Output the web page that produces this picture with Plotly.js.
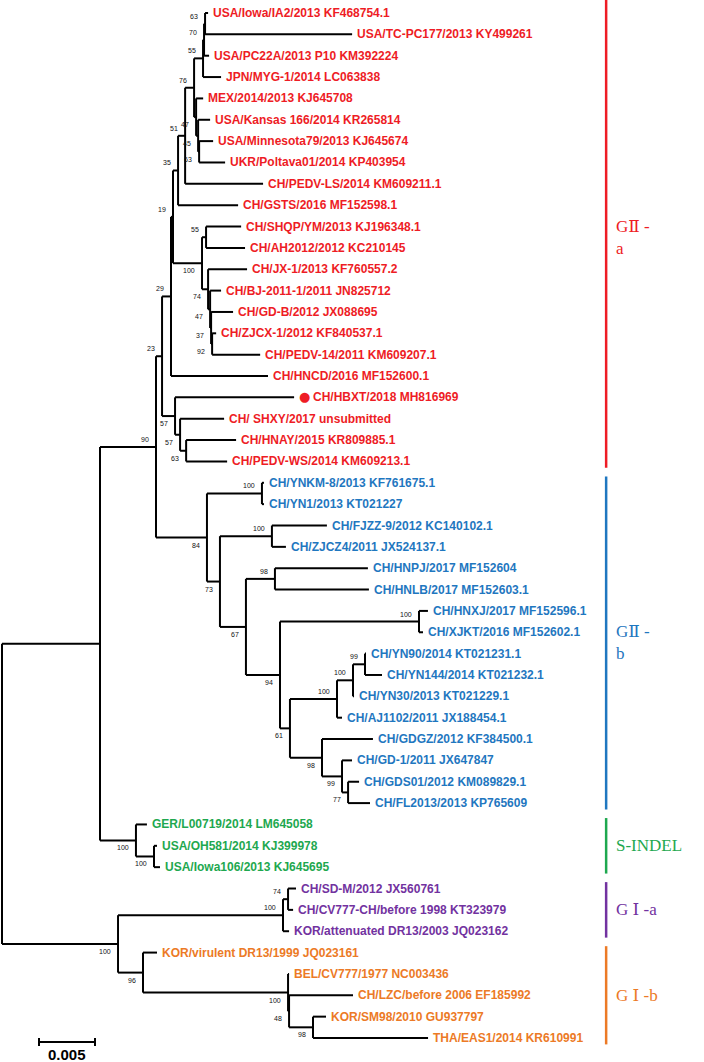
<!DOCTYPE html>
<html>
<head>
<meta charset="utf-8">
<script src="https://cdn.plot.ly/plotly-3.0.1.min.js"></script>
<style>html,body{margin:0;padding:0;background:#fff;}#chart{width:704px;height:1062px;}</style>
</head>
<body>
<div id="chart"></div>
<script>
// ---------------- DATA ----------------
// Leaf labels in display order (top to bottom); the tree refers to them by index
const leafNames = [
  "USA/Iowa/IA2/2013 KF468754.1","USA/TC-PC177/2013 KY499261","USA/PC22A/2013 P10 KM392224",
  "JPN/MYG-1/2014 LC063838","MEX/2014/2013 KJ645708","USA/Kansas 166/2014 KR265814",
  "USA/Minnesota79/2013 KJ645674","UKR/Poltava01/2014 KP403954","CH/PEDV-LS/2014 KM609211.1",
  "CH/GSTS/2016 MF152598.1","CH/SHQP/YM/2013 KJ196348.1","CH/AH2012/2012 KC210145",
  "CH/JX-1/2013 KF760557.2","CH/BJ-2011-1/2011 JN825712","CH/GD-B/2012 JX088695",
  "CH/ZJCX-1/2012 KF840537.1","CH/PEDV-14/2011 KM609207.1","CH/HNCD/2016 MF152600.1",
  "CH/HBXT/2018 MH816969","CH/ SHXY/2017 unsubmitted","CH/HNAY/2015 KR809885.1",
  "CH/PEDV-WS/2014 KM609213.1","CH/YNKM-8/2013 KF761675.1","CH/YN1/2013 KT021227",
  "CH/FJZZ-9/2012 KC140102.1","CH/ZJCZ4/2011 JX524137.1","CH/HNPJ/2017 MF152604",
  "CH/HNLB/2017 MF152603.1","CH/HNXJ/2017 MF152596.1","CH/XJKT/2016 MF152602.1",
  "CH/YN90/2014 KT021231.1","CH/YN144/2014 KT021232.1","CH/YN30/2013 KT021229.1",
  "CH/AJ1102/2011 JX188454.1","CH/GDGZ/2012 KF384500.1","CH/GD-1/2011 JX647847",
  "CH/GDS01/2012 KM089829.1","CH/FL2013/2013 KP765609","GER/L00719/2014 LM645058",
  "USA/OH581/2014 KJ399978","USA/Iowa106/2013 KJ645695","CH/SD-M/2012 JX560761",
  "CH/CV777-CH/before 1998 KT323979","KOR/attenuated DR13/2003 JQ023162","KOR/virulent DR13/1999 JQ023161",
  "BEL/CV777/1977 NC003436","CH/LZC/before 2006 EF185992","KOR/SM98/2010 GU937797",
  "THA/EAS1/2014 KR610991"
];
const highlightedLeaf = 18; // CH/HBXT/2018 (marked with a dot)

// Genotype groups (first / last leaf index)
const groupNames  = ["G\u2161 -<br>a", "G\u2161 -<br>b", "S-INDEL", "G \u2160 -a", "G \u2160 -b"];
const groupFirst  = [0, 22, 38, 41, 44];
const groupLast   = [21, 37, 40, 43, 48];
const groupColors = ["#ee1c25", "#1f77c0", "#1ea84f", "#7232a0", "#ec7a26"];

// Tree topology: Newick, leaves = leaf indices, internal labels = bootstrap values,
// branch lengths in substitutions per site
const subtreeGIIa =
  "(((((((((((0:0.00027,1:0.01313)63:0.00009,2:0.00045)70:0.00009,3:0.00161)55:0.00080," +
  "(4:0.00063,(5:0.00107,(6:0.00125,7:0.00232)63:0.00009)45:0.00018)47:0.00018)76:0.00080," +
  "8:0.00696)51:0.00063,9:0.00536)35:0.00045," +
  "((10:0.00313,11:0.00348)55:0.00036,(12:0.00348,(13:0.00098,(14:0.00196,(15:0.00036,16:0.00429)92:0.00009)37:0.00009)47:0.00018)74:0.00054)100:0.00259" +
  ")19:0.00018,17:0.00866)29:0.00080," +
  "(18:0.01063,(19:0.00393,(20:0.00446,21:0.00366)63:0.00054)57:0.00045)57:0.00116)23:0.00054";
const subtreeGIIb =
  "((22:0.00018,23:0.00018)100:0.00491,((24:0.00491,25:0.00125)100:0.00464," +
  "((26:0.00830,27:0.00839)98:0.00259,((28:0.00080,29:0.00036)100:0.01241," +
  "((((30:0.00009,31:0.00152)99:0.00107,32:0.00009)100:0.00143,33:0.00045)100:0.00420," +
  "(34:0.00455,(35:0.00089,(36:0.00098,37:0.00196)77:0.00054)99:0.00179)98:0.00286)61:0.00089" +
  ")94:0.00304)67:0.00232)73:0.00116)84:0.00455";
const subtreeSINDEL = "(38:0.00098,(39:0.00027,40:0.00054)100:0.00161)100:0.00321";
const subtreeGI =
  "(((41:0.00071,42:0.00045)74:0.00045,43:0.00054)100:0.01473," +
  "(44:0.00125,(45:0.00009,(46:0.00571,(47:0.00116,48:0.01027)98:0.00214)48:0.00009)100:0.01295)96:0.00223)100:0.01036";
const treeNewick = "(((" + subtreeGIIa + "," + subtreeGIIb + ")90:0.00500," + subtreeSINDEL + "):0.00875," + subtreeGI + ");";

const scaleBarValue = 0.005;
const scaleBarLabel = "0.005";

// ---------------- TREE PARSING / LAYOUT ----------------
function parseNewick(s) {
  let i = 0;
  function node() {
    const n = {children: []};
    if (s[i] === '(') {
      i++;
      n.children.push(node());
      while (s[i] === ',') { i++; n.children.push(node()); }
      i++; // ')'
    }
    let name = '';
    while (i < s.length && !':,);'.includes(s[i])) name += s[i++];
    let len = 0;
    if (s[i] === ':') {
      i++;
      let t = '';
      while (i < s.length && !',);'.includes(s[i])) t += s[i++];
      len = parseFloat(t);
    }
    if (n.children.length) n.support = name; else n.leaf = parseInt(name, 10);
    n.len = len;
    return n;
  }
  return node();
}
const root = parseNewick(treeNewick);
root.len = 0;
function layoutTree(n, x0) {
  n.x = x0 + n.len;
  if (!n.children.length) { n.y = n.leaf; return; }
  n.children.forEach(c => { c.parent = n; layoutTree(c, n.x); });
  n.y = (n.children[0].y + n.children[n.children.length - 1].y) / 2;
}
layoutTree(root, 0);

const groupOf = i => groupFirst.findIndex((f, g) => i >= f && i <= groupLast[g]);

const lx = [], ly = [];
const annotations = [];
const leaves = [];
(function walk(n) {
  if (n.parent) { lx.push(n.parent.x, n.x, null); ly.push(n.y, n.y, null); }
  if (n.children.length) {
    const a = n.children[0], b = n.children[n.children.length - 1];
    lx.push(n.x, n.x, null); ly.push(a.y, b.y, null);
    if (n.support && n.parent) {
      const isFirst = n.parent.children[0] === n;
      annotations.push({x: n.x, y: n.y, xref: 'x', yref: 'y', text: n.support, showarrow: false,
        xanchor: 'right', yanchor: 'middle', xshift: -5, yshift: isFirst ? 7.5 : -7.5,
        font: {family: 'Liberation Sans, Arial', size: 7, color: '#111'}});
    }
    n.children.forEach(walk);
  } else {
    leaves.push(n);
  }
})(root);

leaves.forEach(n => {
  const g = groupOf(n.leaf);
  const col = groupColors[g];
  const hl = n.leaf === highlightedLeaf;
  if (hl) {
    annotations.push({x: n.x, y: n.y, xref: 'x', yref: 'y', text: '\u25CF', showarrow: false,
      xanchor: 'left', yanchor: 'middle', xshift: 3, yshift: 0.5,
      font: {family: 'DejaVu Sans', size: 13, color: col}});
  }
  annotations.push({x: n.x, y: n.y, xref: 'x', yref: 'y', text: '<b>' + leafNames[n.leaf] + '</b>',
    showarrow: false, xanchor: 'left', yanchor: 'middle', xshift: hl ? 17 : 3,
    font: {family: 'Liberation Sans, Arial', size: 12, color: col}});
});

// group bars and names
const shapes = [];
groupNames.forEach((name, g) => {
  const y0 = groupFirst[g] - (g === 0 ? 0.65 : 0.3), y1 = groupLast[g] + 0.3;
  shapes.push({type: 'line', xref: 'paper', yref: 'y', x0: 0.861, x1: 0.861, y0: y0, y1: y1,
    line: {color: groupColors[g], width: 2.5}});
  annotations.push({xref: 'paper', yref: 'y', x: 0.872, y: (groupFirst[g] + groupLast[g]) / 2,
    text: name, showarrow: false, xanchor: 'left', yanchor: 'middle', align: 'left',
    font: {family: 'Liberation Serif, DejaVu Serif, Times New Roman', size: 17, color: groupColors[g]}});
});

// scale bar
const pxPerUnit = 11200, pxPerLeaf = 21.354;
const sbx0 = 37 / pxPerUnit, sbx1 = sbx0 + scaleBarValue, sby = 48.19;
const tick = 4 / pxPerLeaf;
shapes.push({type: 'line', xref: 'x', yref: 'y', x0: sbx0, x1: sbx1, y0: sby, y1: sby, line: {color: '#000', width: 2}});
shapes.push({type: 'line', xref: 'x', yref: 'y', x0: sbx0, x1: sbx0, y0: sby - tick, y1: sby + tick, line: {color: '#000', width: 2}});
shapes.push({type: 'line', xref: 'x', yref: 'y', x0: sbx1, x1: sbx1, y0: sby - tick, y1: sby + tick, line: {color: '#000', width: 2}});
annotations.push({xref: 'x', yref: 'y', x: (sbx0 + sbx1) / 2, y: 48.76, text: '<b>' + scaleBarLabel + '</b>',
  showarrow: false, xanchor: 'center', yanchor: 'middle', font: {family: 'Liberation Sans, Arial', size: 15, color: '#000'}});

const traces = [{
  type: 'scatter', mode: 'lines', x: lx, y: ly, hoverinfo: 'skip',
  line: {color: '#000', width: 2}, showlegend: false
}];

const layout = {
  width: 704, height: 1062,
  margin: {l: 0, r: 0, t: 0, b: 0},
  paper_bgcolor: '#fff', plot_bgcolor: '#fff',
  xaxis: {range: [-2 / pxPerUnit, 702 / pxPerUnit], visible: false, fixedrange: true},
  yaxis: {range: [(1062 - 13) / pxPerLeaf, -13 / pxPerLeaf], visible: false, fixedrange: true},
  showlegend: false,
  shapes: shapes,
  annotations: annotations
};
Plotly.newPlot('chart', traces, layout, {staticPlot: true, displayModeBar: false});
</script>
</body>
</html>
